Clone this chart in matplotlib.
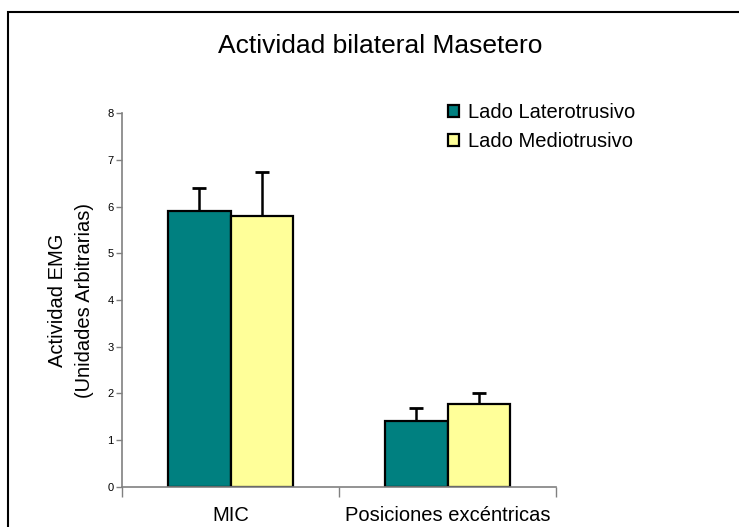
import numpy as np
import matplotlib
matplotlib.use("Agg")
import matplotlib.pyplot as plt
from matplotlib.patches import Rectangle

plt.rcParams['font.family'] = ['Liberation Sans', 'DejaVu Sans']

categories = ["MIC", "Posiciones excéntricas"]
series_names = ["Lado Laterotrusivo", "Lado Mediotrusivo"]
latero = [5.91, 1.41]
latero_err = [0.48, 0.28]
medio = [5.81, 1.77]
medio_err = [0.94, 0.23]
colors = ["#008080", "#FFFF99"]

fig = plt.figure(figsize=(7.39, 5.27), dpi=100)
ax = fig.add_axes([122/739, 1-486.7/527, 434/739, 373.4/527])

x = np.arange(len(categories))
w = 0.288
for off, vals, errs, col, name in [(-w/2, latero, latero_err, colors[0], series_names[0]),
                                   (w/2, medio, medio_err, colors[1], series_names[1])]:
    ax.errorbar(x + off, vals, yerr=[np.zeros(len(errs)), errs], fmt="none",
                ecolor="black", elinewidth=1.8, capsize=4.7, capthick=2, zorder=1)
    ax.bar(x + off, vals, w, color=col, edgecolor="black", linewidth=1.6,
           label=name, zorder=2)

ax.set_xlim(-0.5, 1.5)
ax.set_ylim(0, 8)
ax.set_yticks(range(0, 9))
ax.tick_params(axis="y", labelsize=8, length=4, width=1, color="#808080", pad=2)
ax.set_xticks(x)
ax.set_xticklabels(categories, fontsize=14.5)
ax.tick_params(axis="x", which="major", length=0, pad=14)
ax.set_xticks([-0.5, 0.5, 1.5], minor=True)
ax.tick_params(axis="x", which="minor", length=7, width=1, color="#808080")

for s in ["top", "right"]:
    ax.spines[s].set_visible(False)
for s in ["left", "bottom"]:
    ax.spines[s].set_color("#808080")
    ax.spines[s].set_linewidth(1.2)

ax.set_ylabel("Actividad EMG\n(Unidades Arbitrarias)", fontsize=14.5, labelpad=10,
              linespacing=1.5)
fig.text(380/739, 1-53/527, "Actividad bilateral Masetero", fontsize=19,
         ha="center", va="baseline")

leg = fig.legend(loc="upper left", bbox_to_anchor=(438/739, 1-93/527), frameon=False,
                 fontsize=14.5, handlelength=0.55, handleheight=0.55,
                 handletextpad=0.45, labelspacing=0.5, borderpad=0)

fig.patches.append(Rectangle((8/739, -0.2), 1.2, 1.2 - 12/527, transform=fig.transFigure,
                             fill=False, edgecolor="black", linewidth=1.5))

fig.savefig("out.png", dpi=100)
